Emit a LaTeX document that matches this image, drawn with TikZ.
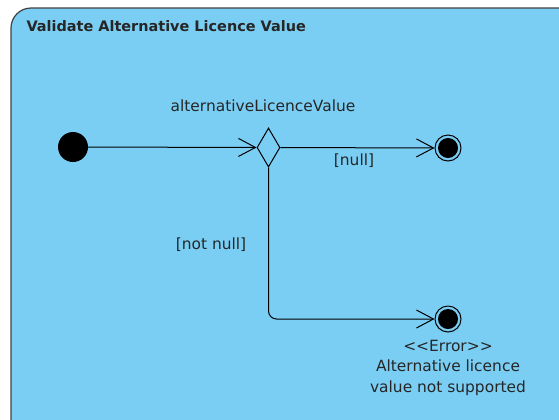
\documentclass[tikz,border=0pt]{standalone}
\usepackage{fontspec}
\setmainfont{DejaVu Sans}
\usepackage{tikz}
\usetikzlibrary{positioning,shapes.geometric,arrows.meta}
\definecolor{diagbg}{HTML}{7ACEF4}

\begin{document}
\begin{tikzpicture}[x=1bp,y=-1bp,
  every node/.style={font=\fontsize{15.5}{20.5}\selectfont,text=black!85},
  initial/.style={circle,fill=black,minimum size=30bp,inner sep=0pt},
  final/.style={circle,draw=black,line width=1bp,minimum size=26bp,inner sep=0pt,
    path picture={\fill[black] (path picture bounding box.center) circle (10bp);}},
  choice/.style={diamond,draw=black,line width=1bp,inner sep=0pt,
    minimum width=23bp,minimum height=39bp},
  flow/.style={draw=black,line width=1bp,-{Straight Barb[length=17bp,width=18bp,line width=1bp]}}]
\useasboundingbox (0,0) rectangle (559,419);
\clip (0,0) rectangle (559,419);
% frame
\draw [fill=diagbg,draw=black!75,line width=1.2bp,rounded corners=20bp] (11,8) rectangle (580,440);
\node [anchor=base west,font=\bfseries\fontsize{14.5}{18}\selectfont] (title) at (23,31) {Validate Alternative Licence Value};
% nodes
\node [initial] (start) at (73,147) {};
\node [choice] (check) at (268.5,147.5) {};
\node [final] (done) at (448,148) {};
\node [final] (err) at (448,319) {};
\coordinate (bend) at (268.5,319);
% edges
\draw [flow] (start) -- (check);
\node (var) at (263,106) {alternativeLicenceValue};
\draw [flow] (check) -- (done);
\node (isnull) at (354,161) {[null]};
\draw [flow,rounded corners=8bp] (check.south) -- (bend) -- (err);
\node (notnull) at (211,245) {[not null]};
\node [below=4bp of err,align=center] (errtext)
  {<{}<Error>{}>\\Alternative licence\\value not supported};
\end{tikzpicture}
\end{document}
